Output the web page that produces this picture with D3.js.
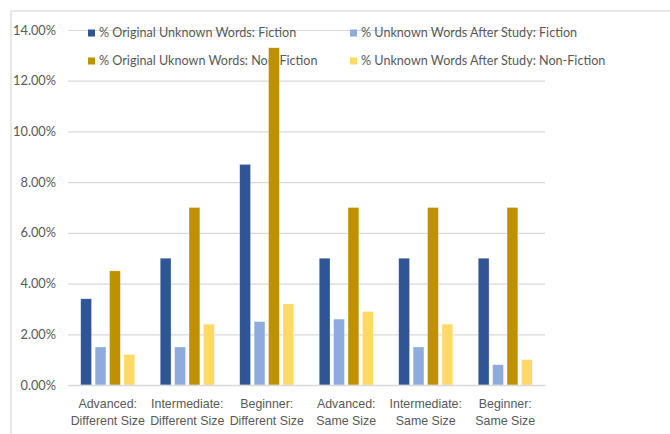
<!DOCTYPE html>
<html>
<head>
<meta charset="utf-8">
<script src="https://cdn.jsdelivr.net/npm/d3@7"></script>
<style>
  html, body { margin: 0; padding: 0; background: #fff; }
  svg { display: block; font-family: Lato, "Open Sans", sans-serif; }
</style>
</head>
<body>
<svg id="chart" width="670" height="434"></svg>
<script>
// Groups along the x axis (two-line labels)
const categories = [
  ["Advanced:", "Different Size"],
  ["Intermediate:", "Different Size"],
  ["Beginner:", "Different Size"],
  ["Advanced:", "Same Size"],
  ["Intermediate:", "Same Size"],
  ["Beginner:", "Same Size"]
];

// Series names (legend order)
const seriesNames = [
  "% Original Unknown Words: Fiction",
  "% Unknown Words After Study: Fiction",
  "% Original Uknown Words: Non-Fiction",
  "% Unknown Words After Study: Non-Fiction"
];

// Values in percent, one array per series
const origFiction      = [3.4, 5.0, 8.7, 5.0, 5.0, 5.0];
const afterFiction     = [1.5, 1.5, 2.5, 2.6, 1.5, 0.8];
const origNonFiction   = [4.5, 7.0, 13.3, 7.0, 7.0, 7.0];
const afterNonFiction  = [1.2, 2.4, 3.2, 2.9, 2.4, 1.0];

const yTicks = [0, 2, 4, 6, 8, 10, 12, 14];

const colors = ["#2F5597", "#8FAADC", "#BF9000", "#FFD966"];
const seriesValues = [origFiction, afterFiction, origNonFiction, afterNonFiction];

const svg = d3.select("#chart");
const textColor = "#595959";
const gridColor = "#d9d9d9";

// Outer chart frame (top and left edges visible)
svg.append("rect")
  .attr("x", 11).attr("y", 11)
  .attr("width", 700).attr("height", 460)
  .attr("fill", "none")
  .attr("stroke", gridColor)
  .attr("stroke-width", 1.2);

const plot = { left: 68, right: 545, top: 30, bottom: 385 };

const y = d3.scaleLinear().domain([0, 14]).range([plot.bottom, plot.top]);

const x0 = d3.scaleBand()
  .domain(d3.range(categories.length))
  .range([plot.left, plot.right])
  .padding(0);

const bw = x0.bandwidth();
const x1 = d3.scaleBand()
  .domain(d3.range(seriesNames.length))
  .range([bw * 0.16, bw * 0.84])
  .paddingInner(0.25);

// Horizontal gridlines and y labels
const yAxis = d3.axisLeft(y)
  .tickValues(yTicks)
  .tickSize(-(plot.right - plot.left))
  .tickPadding(12)
  .tickFormat(d => d.toFixed(2) + "%");

const gy = svg.append("g")
  .attr("transform", `translate(${plot.left},0)`)
  .call(yAxis);
gy.select(".domain").remove();
gy.selectAll(".tick line").attr("stroke", gridColor).attr("stroke-width", 1.2);
gy.selectAll(".tick text")
  .attr("fill", textColor)
  .attr("font-size", 12.8)
  .attr("font-family", "Lato, sans-serif");

// Legend (2 x 2)
const legendPos = [
  { x: 88, y: 33 }, { x: 350, y: 33 },
  { x: 88, y: 61 }, { x: 350, y: 61 }
];
const legend = svg.append("g");
seriesNames.forEach((name, i) => {
  const g = legend.append("g").attr("transform", `translate(${legendPos[i].x},${legendPos[i].y})`);
  g.append("rect")
    .attr("x", 0).attr("y", -3.5)
    .attr("width", 7).attr("height", 7)
    .attr("fill", colors[i]);
  g.append("text")
    .attr("x", 11).attr("y", 0)
    .attr("dy", "0.35em")
    .attr("fill", textColor)
    .attr("font-size", 12.6)
    .text(name);
});

// Bars
const groups = svg.append("g")
  .selectAll("g")
  .data(categories.map((c, i) => i))
  .join("g")
  .attr("transform", i => `translate(${x0(i)},0)`);

groups.selectAll("rect")
  .data(i => seriesValues.map((vals, s) => ({ s, v: vals[i] })))
  .join("rect")
  .attr("x", d => x1(d.s))
  .attr("width", x1.bandwidth())
  .attr("y", d => y(d.v))
  .attr("height", d => y(0) - y(d.v))
  .attr("fill", d => colors[d.s])
  .attr("stroke", "#ffffff")
  .attr("stroke-opacity", 0.5)
  .attr("stroke-width", 0.6);

// X axis baseline and two-line category labels
const xAxis = d3.axisBottom(x0).tickSize(0).tickFormat(() => "");
const gx = svg.append("g")
  .attr("transform", `translate(0,${plot.bottom})`)
  .call(xAxis);
gx.select(".domain").attr("stroke", gridColor).attr("stroke-width", 1.5);

gx.selectAll(".tick").each(function(i) {
  const t = d3.select(this).append("text")
    .attr("fill", textColor)
    .attr("font-size", 12.4)
    .attr("text-anchor", "middle");
  t.append("tspan").attr("x", 0).attr("y", 23).text(categories[i][0]);
  t.append("tspan").attr("x", 0).attr("y", 40).text(categories[i][1]);
});
</script>
</body>
</html>
